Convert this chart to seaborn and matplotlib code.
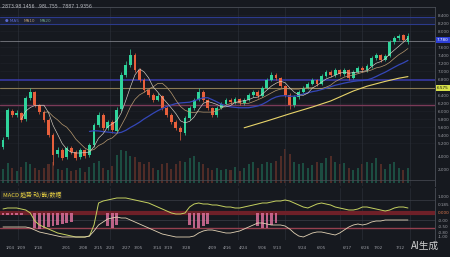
import numpy as np
import pandas as pd
import matplotlib
matplotlib.use("Agg")
import matplotlib.pyplot as plt
import matplotlib.transforms as mtransforms
import seaborn as sns

# ---------------- data ----------------
opens = [5.10,5.35,6.00,5.90,5.95,5.80,6.33,6.48,6.15,5.98,
         5.78,5.40,4.92,5.03,4.85,5.08,4.98,4.85,5.03,4.90,
         5.15,5.65,5.90,5.58,5.73,5.50,6.05,6.90,7.15,7.40,
         7.03,6.78,6.53,6.40,6.28,6.38,6.08,5.90,5.73,5.58,
         5.45,5.83,6.08,6.28,6.48,6.28,6.08,5.90,6.08,6.18,
         6.28,6.23,6.30,6.20,6.28,6.40,6.48,6.38,6.58,6.78,
         6.90,6.83,6.63,6.40,6.15,6.35,6.48,6.58,6.68,6.78,
         6.68,6.88,6.98,6.90,7.03,6.93,7.03,6.83,6.98,7.08,
         7.03,7.13,7.33,7.40,7.28,7.38,7.73,7.83,7.90,7.72]
closes = [5.28,6.03,5.90,5.95,5.78,6.33,6.48,6.15,5.98,5.78,
          5.40,4.90,5.03,4.83,5.08,4.98,4.83,5.03,4.88,5.15,
          5.65,5.90,5.58,5.73,5.53,6.03,6.90,7.15,7.40,7.03,
          6.78,6.53,6.40,6.28,6.38,6.08,5.90,5.73,5.58,5.48,
          5.83,6.08,6.28,6.48,6.28,6.08,5.90,6.08,6.18,6.28,
          6.23,6.30,6.20,6.28,6.40,6.48,6.38,6.58,6.78,6.90,
          6.83,6.63,6.40,6.15,6.35,6.48,6.58,6.68,6.78,6.68,
          6.88,6.98,6.90,7.03,6.93,7.03,6.83,6.98,7.08,7.03,
          7.13,7.33,7.40,7.28,7.38,7.73,7.83,7.88,7.78,7.88]
highs = [5.35,6.08,6.05,6.02,5.98,6.38,6.58,6.50,6.18,6.02,
         5.82,5.45,5.10,5.08,5.12,5.12,5.02,5.08,5.06,5.20,
         5.70,5.98,5.95,5.78,5.78,6.10,6.98,7.25,7.55,7.45,
         7.08,6.82,6.58,6.45,6.45,6.40,6.12,5.95,5.78,5.62,
         5.88,6.12,6.32,6.58,6.52,6.30,6.10,6.12,6.22,6.32,
         6.32,6.35,6.33,6.32,6.45,6.52,6.52,6.62,6.82,6.98,
         6.95,6.86,6.66,6.45,6.40,6.52,6.62,6.72,6.82,6.80,
         6.92,7.02,7.02,7.08,7.06,7.08,7.06,7.02,7.12,7.12,
         7.18,7.38,7.45,7.42,7.42,7.78,7.88,7.93,7.92,7.95]
lows = [5.05,5.30,5.85,5.85,5.72,5.75,6.28,6.10,5.92,5.72,
        5.35,4.65,4.86,4.78,4.80,4.92,4.78,4.80,4.82,4.85,
        5.10,5.60,5.52,5.52,5.46,5.45,6.00,6.85,7.10,6.98,
        6.72,6.48,6.35,6.22,6.24,6.02,5.84,5.68,5.52,5.28,
        5.40,5.78,6.02,6.24,6.22,6.02,5.85,5.86,6.04,6.14,
        6.18,6.18,6.15,6.16,6.24,6.35,6.33,6.34,6.54,6.74,
        6.78,6.58,6.35,6.05,6.10,6.30,6.44,6.54,6.64,6.63,
        6.64,6.84,6.85,6.86,6.88,6.88,6.78,6.80,6.94,6.98,
        6.98,7.08,7.28,7.22,7.24,7.34,7.68,7.78,7.74,7.68]
volume = [2.1,3.0,2.2,1.8,2.4,3.1,2.9,2.3,2.0,2.2,
          2.8,3.2,2.1,1.9,2.3,1.8,2.0,2.2,1.7,2.4,
          3.0,3.3,2.2,2.0,2.5,4.2,5.0,4.8,4.1,3.9,
          3.2,2.9,3.1,2.3,2.0,2.8,3.0,2.1,2.9,3.3,
          3.1,3.8,4.0,3.2,2.9,2.2,2.0,2.3,1.9,2.1,
          2.0,2.4,1.8,2.2,2.9,3.1,2.3,2.8,3.2,3.0,
          3.3,4.1,5.2,4.4,3.2,2.9,3.0,2.2,2.7,3.1,
          3.0,3.8,4.1,3.1,2.8,3.0,2.2,2.0,2.3,2.9,
          3.1,3.0,3.7,2.8,2.1,2.9,3.2,2.3,2.0,2.2]
ma_long_idx = [53, 58, 63, 68, 72, 77, 80, 84, 87, 89]
ma_long_val = [5.58, 5.75, 5.93, 6.10, 6.25, 6.50, 6.62, 6.74, 6.82, 6.86]
dif = [0.4,0.5,0.5,0.5,0.4,0.3,0.0,-0.8,-1.2,-1.4,
       -1.6,-1.8,-2.0,-2.1,-2.2,-2.3,-2.4,-2.4,-2.4,-2.3,
       -1.2,1.0,1.2,1.3,1.4,1.5,1.5,1.5,1.4,1.3,
       1.2,1.1,1.0,0.8,0.6,0.4,0.2,0.0,-0.1,-0.1,
       0.0,0.6,0.9,1.0,0.9,0.9,0.8,0.8,0.7,0.6,
       0.6,0.5,0.5,0.6,0.7,0.8,0.9,1.0,1.0,1.1,
       1.2,1.2,1.3,1.2,1.0,0.8,0.6,0.5,0.7,0.9,
       1.0,0.9,0.8,0.6,0.5,0.4,0.3,0.3,0.4,0.6,
       0.6,0.5,0.4,0.3,0.2,0.3,0.5,0.6,0.6,0.5]
dea = [-1.4,-1.4,-1.4,-1.4,-1.4,-1.4,-1.5,-1.7,-1.9,-2.0,
       -2.1,-2.2,-2.3,-2.4,-2.4,-2.4,-2.4,-2.4,-2.4,-2.3,
       -1.8,-1.2,-0.9,-0.6,-0.5,-0.4,-0.5,-0.5,-0.7,-0.9,
       -1.1,-1.3,-1.5,-1.7,-1.9,-2.1,-2.2,-2.3,-2.4,-2.4,
       -2.4,-2.4,-2.3,-2.0,-1.8,-1.7,-1.7,-1.8,-1.9,-2.0,
       -2.0,-1.9,-1.8,-1.6,-1.4,-1.2,-1.0,-1.0,-1.1,-1.2,
       -1.2,-1.2,-1.3,-1.6,-2.0,-2.3,-2.4,-2.2,-2.0,-1.9,
       -1.9,-2.0,-2.1,-2.2,-2.0,-1.7,-1.4,-1.2,-1.1,-1.2,
       -1.1,-0.9,-0.8,-0.8,-0.7,-0.7,-0.7,-0.7,-0.7,-0.7]
hist = [-0.2,-0.2,-0.2,-0.2,-0.2,0,0,-1.5,-1.6,-1.5,
        -1.4,-1.3,-1.2,-1.1,-1.0,-0.9,0,0,0,0,
        0,0,0,-1.3,-1.5,-1.2,0,0,0,0,
        0,0,0,0,0,0,0,0,0,0,
        0,-1.2,-1.5,-1.5,-1.3,-1.1,0,0,0,0,
        0,0,0,0,0,0,-1.3,-1.5,-1.5,-1.2,
        -1.0,0,0,0,0,0,0,0,0,0,
        0,0,0,0,0,0,0,0,0,0,
        0,0,0,0,0,0,0,0,0,0]
date_labels = ["1/04","1/09","1/18","2/01","2/08","2/15","2/20","2/27","3/05",
               "3/14","3/19","3/28","4/09","4/16","4/24","5/06","5/13","5/24",
               "6/05","6/17","6/26","7/02","7/12"]
date_pos = [1.5,4,7.7,14,17.6,21,23.5,27,29.7,34,36.3,40.4,46,49.2,52.8,57,
            60.2,65.7,70,75.6,79.6,82.4,87.3]
price_ticks = [5.2,5.4,5.6,5.8,6.0,6.2,6.4,6.8,7.0,7.2,7.4,7.6,8.0,8.2,8.4]
macd_ticks = [1.7, 0.9, 0.0, -0.7, -1.4, -1.9, -2.4]
macd_tick_labels = ["1.000", "0.185", "0.000", "-0.00", "-0.50", "-0.80", "-1.00"]
last_price = 7.78
ref_price = 6.575

# ---------------- style ----------------
BG = "#16191f"
GREEN = "#2fd49b"
RED = "#e8603c"
sns.set_theme(style="dark", rc={"axes.facecolor": BG, "figure.facecolor": BG,
                                "patch.edgecolor": "none"})
plt.rcParams["font.family"] = ["DejaVu Sans", "Noto Sans CJK SC"]
CJK = ["Noto Sans CJK SC", "DejaVu Sans"]
TICK = dict(labelsize=3.0, colors="#9a9ca3", length=0, pad=1.8)

df = pd.DataFrame({"o": opens, "h": highs, "l": lows, "c": closes, "v": volume})
df["i"] = np.arange(len(df))
df["up"] = df["c"] >= df["o"]
colors = list(np.where(df["up"], GREEN, RED))
df["ma5"] = df["c"].rolling(5).mean()
df["ma10"] = df["c"].rolling(10).mean()
df["ma20"] = df["c"].rolling(20).mean()

fig = plt.figure(figsize=(4.5, 2.57), dpi=100)
W = 435 / 450
ax = fig.add_axes([0, 1 - 186 / 257, W, 179 / 257])
axm = fig.add_axes([0, 1 - 240 / 257, W, 52 / 257])
for a in (ax, axm):
    a.set_facecolor(BG)
    for s in a.spines.values():
        s.set_visible(False)
ax.spines["top"].set_visible(True)
ax.spines["top"].set_color("#4a4e57")
ax.spines["top"].set_linewidth(0.6)
for a in (ax, axm):
    a.spines["right"].set_visible(True)
    a.spines["right"].set_color("#4a4e57")
    a.spines["right"].set_linewidth(0.6)

xlim = (-0.66, -0.66 + 435 / 4.55)
ax.set_xlim(*xlim)
axm.set_xlim(*xlim)
ax.set_ylim(4.125, 8.60)

# volume overlay (drawn first, underneath)
axv = ax.twinx()
axv.set_ylim(-0.5, 26.8)
axv.bar(df["i"], df["v"], width=0.45, color=colors, alpha=0.28, linewidth=0, zorder=1)
for s in axv.spines.values():
    s.set_visible(False)
axv.set_yticks([2, 4])
axv.set_yticklabels(["2,000", "4,000"])
axv.tick_params(axis="y", **TICK)
axv.grid(False)
ax.set_zorder(axv.get_zorder() + 1)
ax.patch.set_visible(False)
axv.patch.set_facecolor(BG)
axv.patch.set_visible(True)
axv.set_zorder(ax.get_zorder() - 1)

# horizontal reference lines
ax.axhspan(8.175, 8.35, color="#1b2035", zorder=0, linewidth=0)
for yv in price_ticks:
    ax.axhline(yv, color="#1f232b", lw=0.4, zorder=0)
ax.axhline(8.35, color="#2b3a8c", lw=0.8, zorder=1)
ax.axhline(8.175, color="#2b3a8c", lw=0.8, zorder=1)
ax.axhline(7.75, color="#8c8e96", lw=0.5, zorder=1)
ax.axhline(6.775, color="#3a3cae", lw=1.1, zorder=1)
ax.axhline(6.575, color="#8a7a55", lw=0.8, zorder=1)
ax.axhline(6.15, color="#7a3a58", lw=1.0, zorder=1)
ax.axhline(4.275, color="#4a4e57", lw=0.5, zorder=1)
for xv in [3.3, 23.5, 51.6, 62, 74, 79, 89.5]:
    ax.axvline(xv, color="#2a2e37", lw=0.5, zorder=0)
    axm.axvline(xv, color="#2a2e37", lw=0.5, zorder=0)

# candles
ax.vlines(df["i"], df["l"], df["h"], colors=colors, lw=0.5, zorder=3)
ax.bar(df["i"], np.maximum((df["c"] - df["o"]).abs(), 0.015),
       bottom=np.minimum(df["o"], df["c"]), width=0.62, color=colors,
       linewidth=0, zorder=4)

# moving averages
sns.lineplot(x=df["i"], y=df["ma20"], ax=ax, color="#3447b8", lw=0.9, zorder=5)
sns.lineplot(x=df["i"], y=df["ma10"], ax=ax, color="#b89a70", lw=0.5, zorder=5)
sns.lineplot(x=df["i"], y=df["ma5"], ax=ax, color="#d8d2c6", lw=0.45, zorder=5)
sns.lineplot(x=ma_long_idx, y=ma_long_val, ax=ax, color="#e8d46a", lw=0.8, zorder=5)
ax.set_xlabel("")
ax.set_ylabel("")
ax.set_xticks([])
ax.yaxis.tick_right()
ax.set_yticks(price_ticks)
ax.set_yticklabels([f"{t:.3f}" for t in price_ticks])
ax.tick_params(axis="y", **TICK)
ax.grid(False)

trans = mtransforms.blended_transform_factory(ax.transAxes, ax.transData)
ax.text(1.004, last_price, f"{last_price:.3f}", transform=trans, fontsize=3.0,
        color="white", va="center", ha="left",
        bbox=dict(boxstyle="square,pad=0.25", fc="#2d3fd6", ec="none"))
ax.text(1.004, ref_price, f"{ref_price:.3f}", transform=trans, fontsize=3.0,
        color="#111111", va="center", ha="left",
        bbox=dict(boxstyle="square,pad=0.25", fc="#d6e04a", ec="none"))

# header texts
fig.text(0.005, 0.985, "2873.98 1456  .98L.755 . 7887 1.9356", fontsize=3.3,
         color="#b8bac0", va="top", ha="left")
ax.text(0.012, 8.26, "● MA5", transform=trans, fontsize=3.0, color="#5a6ad0", va="center")
ax.text(0.055, 8.26, "MA10", transform=trans, fontsize=3.0, color="#b89a70", va="center")
ax.text(0.092, 8.26, "MA20", transform=trans, fontsize=3.0, color="#6ea080", va="center")

# MACD panel
axm.set_ylim(-2.7, 2.5)
axm.axhline(1.3, color="#3a3e47", lw=0.5, zorder=0)
axm.axhline(-0.7, color="#3a3e47", lw=0.5, zorder=0)
axm.axhline(0.0, color="#6e2028", lw=3.0, zorder=1)
axm.axhline(-1.5, color="#94404e", lw=1.0, zorder=1)
axm.bar(df["i"], hist, width=0.6, color="#d9709a", alpha=0.85, linewidth=0, zorder=2)
sns.lineplot(x=df["i"], y=dif, ax=axm, color="#c4d060", lw=0.7, zorder=3)
sns.lineplot(x=df["i"], y=dea, ax=axm, color="#e2d2b4", lw=0.6, zorder=3)
axm.set_xlabel("")
axm.set_ylabel("")
axm.yaxis.tick_right()
axm.set_yticks(macd_ticks)
axm.set_yticklabels(macd_tick_labels)
axm.tick_params(axis="y", **TICK)
axm.get_yticklabels()[2].set_color("#e07a50")
axm.set_xticks(date_pos)
axm.set_xticklabels(date_labels)
axm.tick_params(axis="x", labelsize=3.0, colors="#9a9ca3", length=0, pad=4)
axm.grid(False)
axm.text(0.006, 0.86, "MACD 趋势 动/能/数据", transform=axm.transAxes,
         fontsize=4.2, color="#e8d040", va="center", ha="left", family=CJK,
         bbox=dict(boxstyle="square,pad=0.2", fc="#23252b", ec="none"))

fig.text(0.945, 0.045, "AI生成", fontsize=7, color="#e6e6e6", ha="center",
         va="center", family=CJK, alpha=0.9)

fig.savefig("out.png", dpi=100, facecolor=BG)
